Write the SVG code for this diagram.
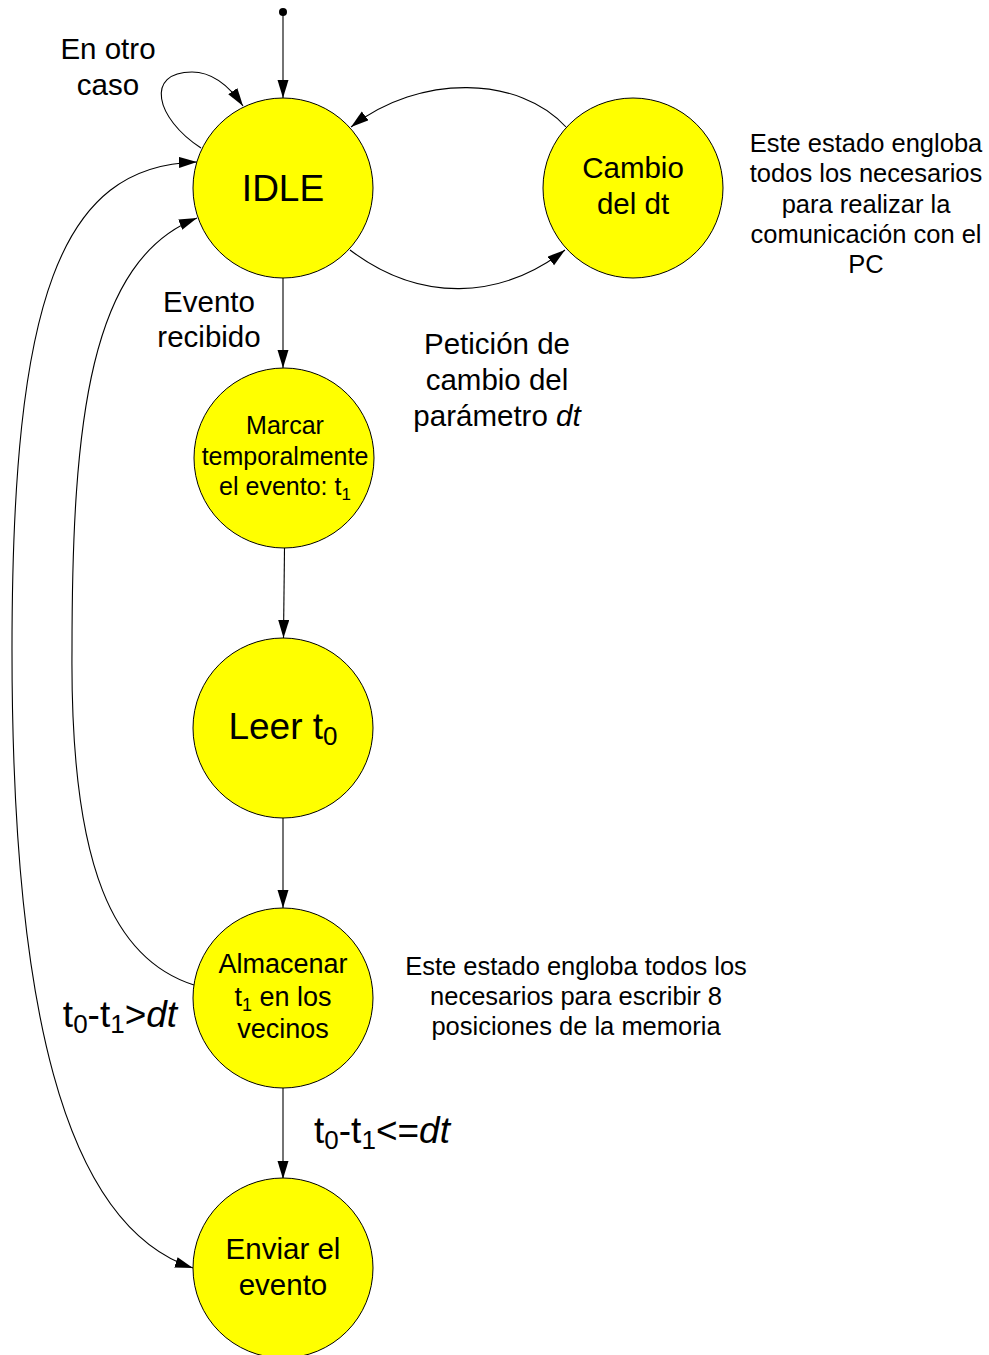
<svg xmlns="http://www.w3.org/2000/svg" width="989" height="1355" viewBox="0 0 989 1355">
  <style>
    .state { fill: #FFFF00; stroke: #000; stroke-width: 1; }
    .edge { fill: none; stroke: #000; stroke-width: 1.1; }
    text { font-family: "Liberation Sans", Arial, sans-serif; fill: #000; text-anchor: middle; }
    .big { font-size: 37px; }
    .mid { font-size: 29.5px; }
    .alm { font-size: 27px; }
    .small { font-size: 25px; }
    .note { font-size: 25.5px; }
  </style>
  <defs>
    <marker id="arrow" markerWidth="18" markerHeight="12" refX="18" refY="5.5" orient="auto-start-reverse" markerUnits="userSpaceOnUse">
      <path d="M0,0 L18,5.5 L0,11 z" fill="#000"/>
    </marker>
  </defs>

  <!-- transitions -->
  <g id="connectors">
    <circle cx="283" cy="12" r="4" fill="#000"/>
    <path class="edge" d="M283,12 L283,98" marker-end="url(#arrow)"/>
    <!-- self loop on IDLE -->
    <path class="edge" d="M201,148 C155,118 145,72 192,72 C215,72 232,90 243,106" marker-end="url(#arrow)"/>
    <!-- Cambio del dt -> IDLE -->
    <path class="edge" d="M566,127 C520,76 420,73 351,127" marker-end="url(#arrow)"/>
    <!-- IDLE -> Cambio del dt -->
    <path class="edge" d="M350,250 C420,303 500,300 565,250" marker-end="url(#arrow)"/>
    <!-- main vertical chain -->
    <path class="edge" d="M283,278 L283,368" marker-end="url(#arrow)"/>
    <path class="edge" d="M284.5,548 L283.5,638" marker-end="url(#arrow)"/>
    <path class="edge" d="M283,818 L283,908" marker-end="url(#arrow)"/>
    <path class="edge" d="M283,1088 L283,1179" marker-end="url(#arrow)"/>
    <!-- Almacenar -> IDLE -->
    <path class="edge" d="M194,985 C115,960 70,870 72,650 C72,420 90,260 197,218" marker-end="url(#arrow)"/>
    <!-- IDLE <-> Enviar el evento -->
    <path class="edge" d="M197,162 C60,165 12,300 12,650 C12,1000 62,1225 193,1268" marker-start="url(#arrow)" marker-end="url(#arrow)"/>
  </g>

  <!-- transition labels -->
  <g id="labels">
    <text class="mid" x="108" y="59">En otro</text>
    <text class="mid" x="108" y="95">caso</text>
    <text class="mid" x="209" y="312">Evento</text>
    <text class="mid" x="209" y="347">recibido</text>
    <text class="mid" x="497" y="354">Petición de</text>
    <text class="mid" x="497" y="390">cambio del</text>
    <text class="mid" x="497" y="426">parámetro <tspan font-style="italic">dt</tspan></text>
    <text class="big" x="120" y="1027">t<tspan font-size="26" dy="6">0</tspan><tspan dy="-6">-t</tspan><tspan font-size="26" dy="6">1</tspan><tspan dy="-6">&gt;</tspan><tspan font-style="italic">dt</tspan></text>
    <text class="big" x="382" y="1143">t<tspan font-size="26" dy="6">0</tspan><tspan dy="-6">-t</tspan><tspan font-size="26" dy="6">1</tspan><tspan dy="-6">&lt;=</tspan><tspan font-style="italic">dt</tspan></text>
  </g>

  <!-- annotations -->
  <g id="notes">
    <text class="note" x="866" y="152">Este estado engloba</text>
    <text class="note" x="866" y="182">todos los necesarios</text>
    <text class="note" x="866" y="213">para realizar la</text>
    <text class="note" x="866" y="243">comunicación con el</text>
    <text class="note" x="866" y="273">PC</text>
    <text class="note" x="576" y="975">Este estado engloba todos los</text>
    <text class="note" x="576" y="1005">necesarios para escribir 8</text>
    <text class="note" x="576" y="1035">posiciones de la memoria</text>
  </g>

  <!-- states -->
  <g id="idle">
    <circle class="state" cx="283" cy="188" r="90"/>
    <text class="big" x="283" y="201">IDLE</text>
  </g>
  <g id="cambio-dt">
    <circle class="state" cx="633" cy="188" r="90"/>
    <text class="mid" x="633" y="178">Cambio</text>
    <text class="mid" x="633" y="214">del dt</text>
  </g>
  <g id="marcar">
    <circle class="state" cx="284" cy="458" r="90"/>
    <text class="small" x="285" y="434">Marcar</text>
    <text class="small" x="285" y="465">temporalmente</text>
    <text class="small" x="285" y="495">el evento: t<tspan font-size="17" dy="5">1</tspan></text>
  </g>
  <g id="leer">
    <circle class="state" cx="283" cy="728" r="90"/>
    <text class="big" x="283" y="739">Leer t<tspan font-size="26" dy="6">0</tspan></text>
  </g>
  <g id="almacenar">
    <circle class="state" cx="283" cy="998" r="90"/>
    <text class="alm" x="283" y="973">Almacenar</text>
    <text class="alm" x="283" y="1006">t<tspan font-size="18" dy="5">1</tspan><tspan dy="-5"> en los</tspan></text>
    <text class="alm" x="283" y="1038">vecinos</text>
  </g>
  <g id="enviar">
    <circle class="state" cx="283" cy="1268" r="90"/>
    <text class="mid" x="283" y="1259">Enviar el</text>
    <text class="mid" x="283" y="1295">evento</text>
  </g>
</svg>
